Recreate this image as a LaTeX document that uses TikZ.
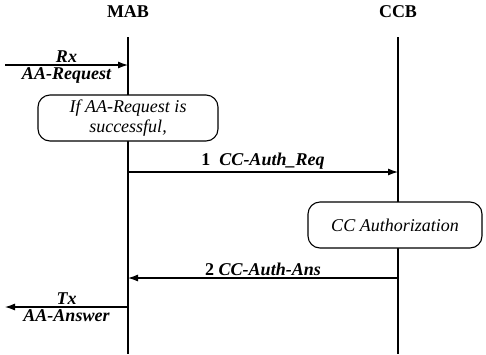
\documentclass[tikz,border=0pt]{standalone}
\usepackage{fontspec}
\setmainfont{Liberation Serif}[ItalicFont={Liberation Serif Italic}, BoldFont={Liberation Serif Bold}, BoldItalicFont={Liberation Serif Bold Italic}]
\usetikzlibrary{arrows.meta,positioning}

\begin{document}
\begin{tikzpicture}[x=1pt, y=-1pt, line width=1.1pt, font=\fontsize{18}{20.5}\selectfont,
    head/.style={font=\fontsize{18}{20.5}\selectfont\bfseries},
    msg/.style={-{Latex[length=10pt, width=7pt]}},
    lbl/.style={font=\fontsize{18}{20.5}\selectfont\bfseries\itshape, inner sep=2pt},
    actbox/.style={draw, rectangle, rounded corners=12pt, fill=white, align=center, font=\fontsize{18}{20.5}\selectfont\itshape}]
    \useasboundingbox (0,0) rectangle (486,354);

    \node[head] (mab) at (128,12) {MAB};
    \node[head] (ccb) at (398,12) {CCB};

    \coordinate (mabtop) at (128,37);
    \coordinate (mabbot) at (128,354);
    \coordinate (ccbtop) at (398,37);
    \coordinate (ccbbot) at (398,354);
    \draw (mabtop) -- (mabbot);
    \draw (ccbtop) -- (ccbbot);

    \coordinate (rxin) at (5,65);
    \coordinate (mabrx) at (128,65);
    \draw[msg] (rxin) -- (mabrx) node[lbl, midway, above] {Rx} node[lbl, midway, below] {AA-Request};

    \node[actbox, minimum width=180pt, minimum height=46pt] (check) at (128,118) {If AA-Request is\\successful,};

    \coordinate (mabreq) at (128,172);
    \coordinate (ccbreq) at (398,172);
    \draw[msg] (mabreq) -- (ccbreq) node[lbl, midway, above] {{\upshape 1}~~CC-Auth\_Req};

    \node[actbox, minimum width=174pt, minimum height=46pt] (authz) at (395,225) {CC Authorization};

    \coordinate (ccbans) at (398,278);
    \coordinate (mabans) at (128,278);
    \draw[msg] (ccbans) -- (mabans) node[lbl, midway, above] {{\upshape 2} CC-Auth-Ans};

    \coordinate (mabtx) at (128,307);
    \coordinate (txout) at (5,307);
    \draw[msg] (mabtx) -- (txout) node[lbl, midway, above] {Tx} node[lbl, midway, below] {AA-Answer};
\end{tikzpicture}
\end{document}
